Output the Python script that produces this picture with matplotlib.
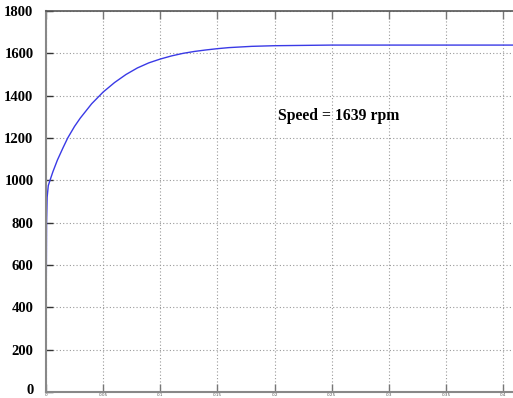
import matplotlib
matplotlib.use("Agg")
from matplotlib import pyplot as plt
from matplotlib.transforms import ScaledTranslation

# speed response
t = [0, 0.0002, 0.0005, 0.001, 0.002, 0.0035, 0.006, 0.01, 0.015, 0.019, 0.025,
     0.03, 0.04, 0.05, 0.06, 0.07, 0.08, 0.09, 0.1, 0.11, 0.12, 0.13, 0.14,
     0.15, 0.16, 0.18, 0.2, 0.25, 0.3, 0.35, 0.41]
speed = [0, 450, 800, 920, 975, 1000, 1040, 1096, 1155, 1200, 1255,
         1294, 1362, 1417, 1462, 1500, 1531, 1555, 1573, 1588, 1600, 1609, 1616,
         1622, 1627, 1633, 1636, 1639, 1639, 1639, 1639]

xticks = [0, 0.05, 0.1, 0.15, 0.2, 0.25, 0.3, 0.35, 0.4]
xlabels = ["0", "0.05", "0.1", "0.15", "0.2", "0.25", "0.3", "0.35", "0.4"]
yticks = [0, 200, 400, 600, 800, 1000, 1200, 1400, 1600, 1800]

W, H = 513, 398
fig = plt.figure(figsize=(W / 100, H / 100), dpi=100)
ax = fig.add_axes([46 / W, (H - 392) / H, (W - 46) / W, (392 - 11) / H])

ax.plot(t, speed, color="#3a3ae6", lw=1.0)

ax.set_xlim(0, (513 - 46) / 1142.5)
ax.set_ylim(0, 1800)
ax.set_xticks(xticks)
ax.set_xticklabels(xlabels, fontsize=3, color="#555555")
ax.set_yticks(yticks)
ax.set_yticklabels([str(v) for v in yticks], fontsize=10.5,
                   family="Liberation Serif", fontweight="bold")
ax.tick_params(axis="x", direction="in", length=6, width=1, color="#777777",
               top=True, pad=1)
ax.tick_params(axis="y", direction="in", length=5, width=1, color="#333333",
               pad=9)
ax.grid(True, linestyle=(0, (1, 2)), color="#999999", lw=0.8)

# nudge the "0" label up a little so it stays inside the picture
lab0 = ax.get_yticklabels()[0]
lab0.set_transform(lab0.get_transform() + ScaledTranslation(0, 3 / 100, fig.dpi_scale_trans))

ax.spines["right"].set_visible(False)
for s in ["left", "bottom"]:
    ax.spines[s].set_color("#888888")
    ax.spines[s].set_linewidth(1.5)
ax.spines["top"].set_color("#555555")
ax.spines["top"].set_linewidth(1.2)

ax.text(0.203, 1305, "Speed = 1639 rpm", fontsize=11.3,
        family="Liberation Serif", fontweight="bold", va="center")

fig.savefig("out.png", dpi=100)
